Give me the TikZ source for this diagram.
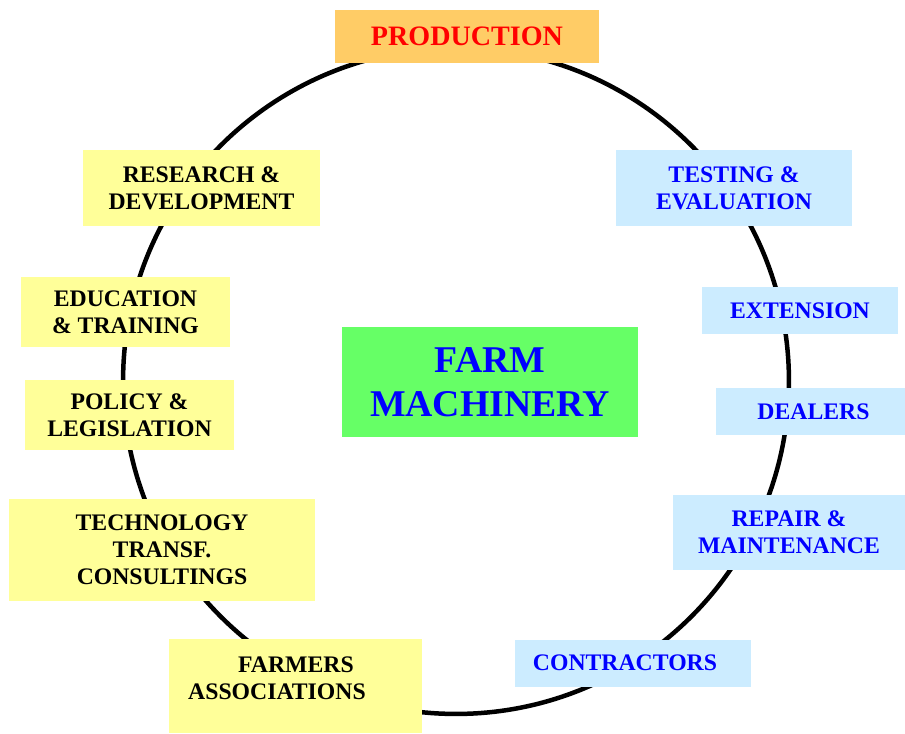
\documentclass[tikz,border=0pt]{standalone}
\usepackage{fontspec}
\setmainfont{Liberation Serif}
\usepackage{tikz}

\definecolor{boxyellow}{HTML}{FFFF99}
\definecolor{boxblue}{HTML}{CCECFF}
\definecolor{boxorange}{HTML}{FFCC66}
\definecolor{boxgreen}{HTML}{66FF66}
\definecolor{txtblue}{HTML}{0000FF}

\newcommand{\lblfont}{\fontsize{13.5}{15.3}\selectfont\bfseries}

\tikzset{
  box/.style={inner sep=0pt, align=center, font=\lblfont},
  ybox/.style={box, fill=boxyellow},
  bbox/.style={box, fill=boxblue, text=txtblue},
}

\begin{document}
\begin{tikzpicture}[x=0.02cm, y=-0.02cm]
    \useasboundingbox (0,0) rectangle (905,733);
    % the ring behind all boxes
    \draw[line width=0.09cm] (456,381) circle (6.66cm);

    \node[box, fill=boxorange, text=red, font=\fontsize{16}{18}\selectfont\bfseries,
          minimum width=5.28cm, minimum height=1.05cm] (prod) at (467,36.3) {PRODUCTION};

    % left side
    \node[ybox, minimum width=4.74cm, minimum height=1.51cm] (research) at (201.5,188) {RESEARCH \&\\DEVELOPMENT};
    \node[ybox, minimum width=4.18cm, minimum height=1.4cm] (educ) at (125.5,312) {EDUCATION\\\& TRAINING};
    \node[ybox, minimum width=4.18cm, minimum height=1.4cm] (policy) at (129.5,415) {POLICY \&\\LEGISLATION};
    \node[ybox, minimum width=6.12cm, minimum height=2.04cm] (techno) at (162,550) {TECHNOLOGY\\TRANSF.\\CONSULTINGS};
    \node[ybox, minimum width=5.06cm, minimum height=1.88cm] (farmers) at (295.5,686) {};
    \node[box, align=left] (farmerstxt) at (277,678) {\hspace*{1cm}FARMERS\\ASSOCIATIONS};

    % right side
    \node[bbox, minimum width=4.72cm, minimum height=1.51cm] (testing) at (734,188) {TESTING \&\\EVALUATION};
    \node[bbox, minimum width=3.92cm, minimum height=0.94cm] (ext) at (800,310.5) {EXTENSION};
    \node[bbox, minimum width=3.78cm, minimum height=0.94cm] (dealers) at (810.5,411.5) {\hspace*{0.12cm}DEALERS};
    \node[bbox, minimum width=4.64cm, minimum height=1.5cm] (repair) at (789,532.5) {REPAIR \&\\MAINTENANCE};
    \node[bbox, minimum width=4.74cm, minimum height=0.94cm] (contr) at (633,663) {CONTRACTORS\hspace*{0.32cm}};

    \node[box, fill=boxgreen, text=txtblue, font=\fontsize{21.5}{24.8}\selectfont\bfseries,
          minimum width=5.92cm, minimum height=2.22cm] (machinery) at (490,382) {FARM\\MACHINERY};
\end{tikzpicture}
\end{document}
